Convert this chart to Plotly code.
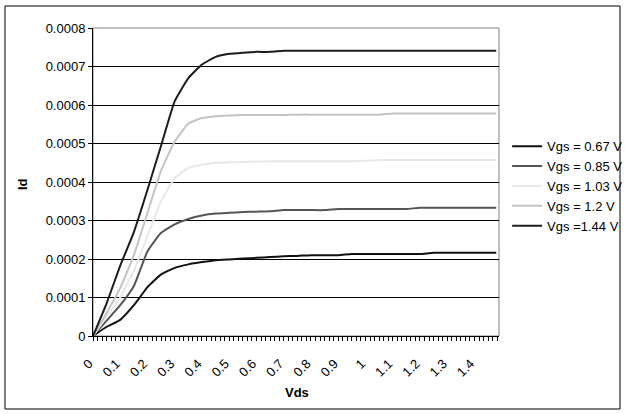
import plotly.graph_objects as go

# Vds values (V)
vds = [0, 0.05, 0.1, 0.15, 0.2, 0.25, 0.3, 0.35, 0.4, 0.45, 0.5, 0.55, 0.6, 0.65, 0.7,
       0.75, 0.8, 0.85, 0.9, 0.95, 1.0, 1.05, 1.1, 1.15, 1.2, 1.25, 1.3, 1.35, 1.4, 1.45, 1.48]

id_067 = [0, 0.000024, 0.000042, 0.00008, 0.000127, 0.00016, 0.000177, 0.000186, 0.000192, 0.000197,
          0.000199, 0.000201, 0.000203, 0.000205, 0.000207, 0.000208, 0.00021, 0.00021, 0.00021, 0.000213,
          0.000213, 0.000213, 0.000213, 0.000213, 0.000213, 0.000216, 0.000216, 0.000216, 0.000216, 0.000216, 0.000216]
id_085 = [0, 0.00004, 0.00008, 0.00013, 0.00022, 0.000268, 0.00029, 0.000304, 0.000313, 0.000318,
          0.00032, 0.000322, 0.000323, 0.000324, 0.000327, 0.000327, 0.000327, 0.000327, 0.00033, 0.00033,
          0.00033, 0.00033, 0.00033, 0.00033, 0.000333, 0.000333, 0.000333, 0.000333, 0.000333, 0.000333, 0.000333]
id_103 = [0, 0.00005, 0.0001, 0.00017, 0.00026, 0.00035, 0.00041, 0.000437, 0.000445, 0.00045,
          0.000451, 0.000452, 0.000453, 0.000454, 0.000454, 0.000454, 0.000454, 0.000454, 0.000454, 0.000454,
          0.000455, 0.000457, 0.000457, 0.000457, 0.000457, 0.000457, 0.000457, 0.000457, 0.000457, 0.000457, 0.000457]
id_120 = [0, 0.00006, 0.000125, 0.00021, 0.00032, 0.00043, 0.000505, 0.000552, 0.000566, 0.000571,
          0.000573, 0.000574, 0.000574, 0.000574, 0.000574, 0.000575, 0.000575, 0.000575, 0.000575, 0.000575,
          0.000575, 0.000575, 0.000578, 0.000578, 0.000578, 0.000578, 0.000578, 0.000578, 0.000578, 0.000578, 0.000578]
id_144 = [0, 0.000085, 0.000183, 0.00027, 0.00038, 0.000495, 0.00061, 0.00067, 0.000705, 0.000725,
          0.000733, 0.000736, 0.000738, 0.000738, 0.000741, 0.000741, 0.000741, 0.000741, 0.000741, 0.000741,
          0.000741, 0.000741, 0.000741, 0.000741, 0.000741, 0.000741, 0.000741, 0.000741, 0.000741, 0.000741, 0.000741]

series_names = ["Vgs = 0.67 V", "Vgs = 0.85 V", "Vgs = 1.03 V", "Vgs = 1.2 V", "Vgs =1.44 V"]
series_colors = ["#111111", "#555555", "#e8e8e8", "#c4c4c4", "#1c1c1c"]
series_values = [id_067, id_085, id_103, id_120, id_144]

x_tickvals = [0, 0.1, 0.2, 0.3, 0.4, 0.5, 0.6, 0.7, 0.8, 0.9, 1.0, 1.1, 1.2, 1.3, 1.4]
x_ticktext = ["0", "0.1", "0.2", "0.3", "0.4", "0.5", "0.6", "0.7", "0.8", "0.9", "1", "1.1", "1.2", "1.3", "1.4"]
y_tickvals = [0, 0.0001, 0.0002, 0.0003, 0.0004, 0.0005, 0.0006, 0.0007, 0.0008]
y_ticktext = ["0", "0.0001", "0.0002", "0.0003", "0.0004", "0.0005", "0.0006", "0.0007", "0.0008"]

FONT = "Liberation Sans, Arial, sans-serif"
FS = 13

fig = go.Figure()
for name, color, vals in zip(series_names, series_colors, series_values):
    fig.add_trace(go.Scatter(x=vds, y=vals, mode="lines", name=name,
                             line=dict(color=color, width=2, shape="spline", smoothing=0.4)))

fig.update_layout(
    width=625, height=414,
    margin=dict(l=93, r=126, t=28, b=78, autoexpand=False),
    paper_bgcolor="white", plot_bgcolor="white",
    font=dict(family=FONT, size=FS, color="black"),
    showlegend=True,
    legend=dict(x=1.02, y=0.665, xanchor="left", yanchor="top",
                font=dict(family=FONT, size=FS, color="black"),
                itemwidth=30, tracegroupgap=0, bgcolor="rgba(0,0,0,0)"),
    xaxis=dict(range=[0, 1.49], tickvals=x_tickvals, ticktext=x_ticktext,
               tickangle=-45, ticks="outside", ticklen=4, tickcolor="black",
               ticklabelstandoff=10, ticklabelshift=-4, automargin=False,
               showline=True, linecolor="black", linewidth=1,
               showgrid=False, zeroline=False,
               minor=dict(dtick=1/60, tick0=0, ticks="outside", ticklen=4,
                          tickcolor="black", showgrid=False),
               tickfont=dict(family=FONT, size=FS)),
    yaxis=dict(range=[0, 0.0008], tickvals=y_tickvals, ticktext=y_ticktext,
               ticks="outside", ticklen=4, tickcolor="black", automargin=False,
               showline=True, linecolor="black", linewidth=1,
               showgrid=True, gridcolor="black", gridwidth=1, zeroline=False,
               tickfont=dict(family=FONT, size=FS)),
    shapes=[
        dict(type="rect", xref="paper", yref="paper", x0=0, x1=1, y0=0, y1=1,
             line=dict(color="#808080", width=1), layer="below"),
        dict(type="rect", xref="paper", yref="paper",
             x0=(5 - 93) / 406, x1=(620 - 93) / 406,
             y0=(336 - 409) / 308, y1=(336 - 6) / 308,
             line=dict(color="black", width=1)),
    ],
    annotations=[
        dict(text="<b>Vds</b>", xref="paper", yref="paper",
             x=(297 - 93) / 406, y=(336 - 392) / 308, showarrow=False,
             xanchor="center", yanchor="middle",
             font=dict(family=FONT, size=FS)),
        dict(text="<b>Id</b>", xref="paper", yref="paper", textangle=-90,
             x=(22 - 93) / 406, y=(336 - 184) / 308, showarrow=False,
             xanchor="center", yanchor="middle",
             font=dict(family=FONT, size=FS)),
    ],
)

fig.write_html("out.html")
